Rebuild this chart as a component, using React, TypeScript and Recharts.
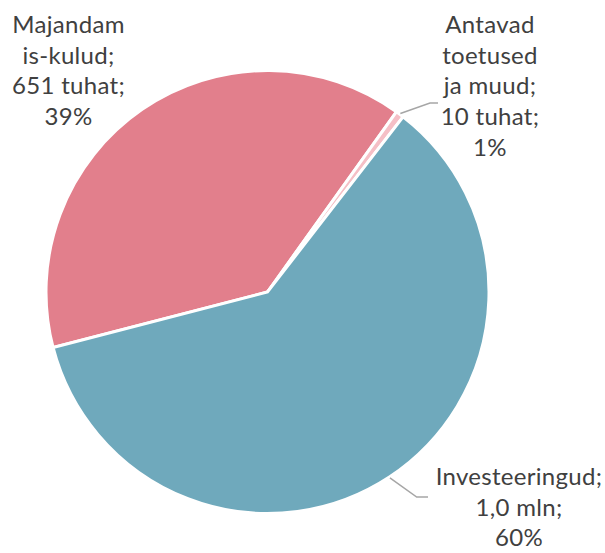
import { Cell, Pie, PieChart } from "recharts";

// kulud, tuhandetes eurodes
const categories = ["Majandamis-kulud", "Antavad toetused ja muud", "Investeeringud"];
const amounts = [651, 10, 1012];
const amountLabels = ["651 tuhat", "10 tuhat", "1,0 mln"];
const shareLabels = ["39%", "1%", "60%"];
// how the category name wraps in the label
const nameLines = [["Majandam", "is-kulud;"], ["Antavad", "toetused", "ja muud;"], ["Investeeringud;"]];

const COLORS = ["#E27F8C", "#F5BFC6", "#6FA9BC"];
const TEXT_COLOR = "#404040";
const LEADER_COLOR = "#A6A6A6";
const FONT = "Lato, 'Open Sans', sans-serif";
const FONT_SIZE = 24;
const LINE_H = 30.7;

// label placement relative to the pie centre (dx/dy = centre of text, first baseline)
const LABEL_POS = [
  { dx: -199, dy: -259, elbow: null as null | { dx: number; dy: number; ex: number } },
  { dx: 222.5, dy: -259, elbow: { dx: 162.5, dy: -189, ex: 170.5 } },
  { dx: 251.5, dy: 193, elbow: { dx: 149.2, dy: 205, ex: 160.5 } },
];

const data = categories.map((name, i) => ({ name, value: amounts[i] }));

const RAD = Math.PI / 180;

const renderLabel = (props: any) => {
  const { cx, cy, midAngle, outerRadius, index } = props;
  const pos = LABEL_POS[index];
  const x = cx + pos.dx;
  const y = cy + pos.dy;
  const lines = [...nameLines[index], `${amountLabels[index]};`, shareLabels[index]];
  let leader = null;
  if (pos.elbow) {
    const sx = cx + (outerRadius + 1) * Math.cos(-midAngle * RAD);
    const sy = cy + (outerRadius + 1) * Math.sin(-midAngle * RAD);
    const ex = cx + pos.elbow.dx;
    const ey = cy + pos.elbow.dy;
    leader = (
      <polyline
        points={`${sx},${sy} ${ex},${ey} ${cx + pos.elbow.ex},${ey}`}
        fill="none"
        stroke={LEADER_COLOR}
        strokeWidth={1.5}
      />
    );
  }
  return (
    <g key={`lbl-${index}`}>
      {leader}
      <text
        x={x}
        y={y}
        textAnchor="middle"
        fill={TEXT_COLOR}
        fontFamily={FONT}
        fontSize={FONT_SIZE}
        letterSpacing={0.3}
      >
        {lines.map((l, i) => (
          <tspan key={i} x={x} y={y + i * LINE_H}>
            {l}
          </tspan>
        ))}
      </text>
    </g>
  );
};

export default function App() {
  return (
    <div style={{ width: 605, height: 553, background: "#fff" }}>
      <style>{"body{margin:0}"}</style>
      <PieChart width={605} height={553} margin={{ top: 0, right: 0, bottom: 0, left: 0 }}>
        <Pie
          data={data}
          dataKey="value"
          nameKey="name"
          cx={267.5}
          cy={292}
          outerRadius={221.5}
          startAngle={194.5}
          endAngle={-165.5}
          stroke="#ffffff"
          strokeWidth={3}
          label={renderLabel}
          labelLine={false}
          isAnimationActive={false}
        >
          {data.map((d, i) => (
            <Cell key={d.name} fill={COLORS[i]} />
          ))}
        </Pie>
      </PieChart>
    </div>
  );
}
